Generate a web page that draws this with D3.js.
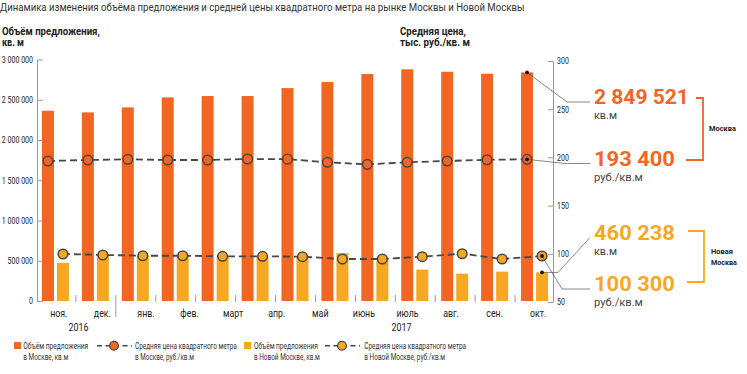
<!DOCTYPE html>
<html><head><meta charset="utf-8">
<script src="https://cdn.jsdelivr.net/npm/d3@7"></script>
<style>
body{margin:0;background:#fff;}
svg{display:block;font-family:Roboto,"Noto Sans",sans-serif;}
</style></head><body>
<svg id="c" width="747" height="374"></svg>
<script>
// ---------- DATA ----------
const title = "Динамика изменения объёма предложения и средней цены квадратного метра на рынке Москвы и Новой Москвы";
const periods = ["11.2016","12.2016","01.2017","02.2017","03.2017","04.2017","05.2017","06.2017","07.2017","08.2017","09.2017","10.2017","11.2017"];
const monthLabels = ["ноя.","дек.","янв.","фев.","март","апр.","май","июнь","июль","авг.","сен.","окт."];
const yearLabels = ["2016","2017"];
const moscowVolume = [2363000,2343000,2405000,2529000,2546000,2546000,2645000,2720000,2820000,2878000,2848000,2823000,2840000];
const newMoscowVolume = [475000,565000,560000,560000,545000,545000,545000,595000,505000,390000,340000,365000,355000];
const moscowPrice = [196.3,197.3,198.0,197.3,197.3,198.3,198.2,194.9,192.8,194.9,196.3,197.6,198.0];
const newMoscowPrice = [99.8,98.8,98.0,98.0,97.4,97.4,97.0,94.6,94.6,97.0,100.1,94.6,97.7];
const leftTicks = [0,500000,1000000,1500000,2000000,2500000,3000000];
const rightTicks = [50,100,150,200,250,300];
const callouts = ["2 849 521","193 400","460 238","100 300"];
const calloutUnits = ["кв.м","руб./кв.м","кв.м","руб./кв.м"];
const groupLabels = [["Москва"],["Новая","Москва"]];
const legendLabels = [
  ["Объём предложения","в Москве, кв.м"],
  ["Средняя цена квадратного метра","в Москве, руб./кв.м"],
  ["Объём предложения","в Новой Москве, кв.м"],
  ["Средняя цена квадратного метра","в Новой Москве, руб./кв.м"]
];

// ---------- STYLE ----------
const ORANGE = "#F26522", YELLOW = "#F7A823", LINE = "#474747", AXIS = "#9a9a9a", TXT = "#222";

const svg = d3.select("#c");
// text squeezed horizontally to a given width (real text, scaled by transform)
function label(x, y, t, size, width, o={}){
  const el = svg.append("text").attr("x",0).attr("y",0).attr("font-size",size)
    .attr("fill",o.fill||TXT).attr("font-weight",o.bold?"bold":null)
    .attr("text-anchor",o.anchor||"start").text(t);
  const L = el.node().getComputedTextLength();
  const s = width ? width/L : (o.f||1);
  el.attr("transform",`translate(${x},${y}) scale(${s},1)`);
  return el;
}
function squeeze(sel, f){
  sel.each(function(){
    const e = d3.select(this);
    const x = +e.attr("x")||0, y = +e.attr("y")||0;
    e.attr("x",0).attr("y",0).attr("transform",`translate(${x},${y}) scale(${f},1)`);
  });
}

// scales
const x = d3.scaleBand().domain(periods).range([36,555]);
const xm = d3.scaleBand().domain(monthLabels).range([37,560]);
const yL = d3.scaleLinear().domain([0,3000000]).range([301,59.5]);
const yR = d3.scaleLinear().domain([50,300]).range([302,61]);
const bw = x.bandwidth();
const barW = 12;
const xo = p => x(p) + bw/2 - 8;   // Moscow centre
const xy = p => x(p) + bw/2 + 7;   // New Moscow centre

// title
label(0, 11, title, 10, 525, {fill:"#333"});

// axis titles
label(2, 35, "Объём предложения,", 10, 98, {bold:true});
label(2, 45.5, "кв. м", 10, 22, {bold:true});
label(400, 35, "Средняя цена,", 10, 66, {bold:true});
label(400, 45.5, "тыс. руб./кв. м", 10, 70, {bold:true});

// axes
const fmt = v => d3.format(",")(v).replace(/,/g," ");
const gL = svg.append("g").attr("transform","translate(37,0)")
  .call(d3.axisLeft(yL).tickValues(leftTicks).tickFormat(fmt).tickSizeInner(-6).tickSizeOuter(0).tickPadding(4));
const gR = svg.append("g").attr("transform","translate(553,0)")
  .call(d3.axisRight(yR).tickValues(rightTicks).tickSizeInner(-5).tickSizeOuter(0).tickPadding(4));
[gL,gR].forEach(g=>{
  g.select(".domain").attr("stroke",AXIS).attr("stroke-width",1);
  g.selectAll(".tick line").attr("stroke",AXIS);
  g.selectAll(".tick text").attr("font-size",8.8).attr("fill",TXT).attr("font-family","Roboto");
  squeeze(g.selectAll(".tick text"),0.8);
});

// bars
svg.append("g").selectAll("rect").data(periods).join("rect")
  .attr("x",p=>xo(p)-barW/2).attr("width",barW)
  .attr("y",(p,i)=>yL(moscowVolume[i])).attr("height",(p,i)=>yL(0)-yL(moscowVolume[i]))
  .attr("fill",ORANGE);
svg.append("g").selectAll("rect").data(periods).join("rect")
  .attr("x",p=>xy(p)-barW/2).attr("width",barW)
  .attr("y",(p,i)=>yL(newMoscowVolume[i])).attr("height",(p,i)=>yL(0)-yL(newMoscowVolume[i]))
  .attr("fill",YELLOW);

// bottom ticks
const x0 = x.range()[0];
for(let i=1;i<periods.length;i++){
  const tx = x0 + i*bw;
  svg.append("line").attr("x1",tx).attr("x2",tx).attr("y1",295).attr("y2", i===2?317:302)
    .attr("stroke",AXIS).attr("stroke-width",1);
}

// month labels
monthLabels.forEach(m=>{
  label(xm(m)+xm.bandwidth()/2, 317, m, 10, null, {anchor:"middle", f:0.88});
});
const yx = [ (xm(monthLabels[0])+xm(monthLabels[1]))/2 + xm.bandwidth()/2 - 2, xm(monthLabels[8])+xm.bandwidth()/2 - 6 ];
yearLabels.forEach((d,i)=> label(yx[i], 331, d, 10.5, null, {anchor:"middle", f:0.85}));

// lines
const lineM = d3.line().x((d,i)=>xo(periods[i])).y(d=>yR(d));
const lineN = d3.line().x((d,i)=>xy(periods[i])).y(d=>yR(d));
svg.append("path").attr("d",lineM(moscowPrice)).attr("fill","none").attr("stroke",LINE).attr("stroke-width",1.8).attr("stroke-dasharray","7,4");
svg.append("path").attr("d",lineN(newMoscowPrice)).attr("fill","none").attr("stroke",LINE).attr("stroke-width",1.8).attr("stroke-dasharray","7,4");
svg.append("g").selectAll("circle").data(moscowPrice).join("circle")
  .attr("cx",(d,i)=>xo(periods[i])).attr("cy",d=>yR(d)).attr("r",4.8)
  .attr("fill",ORANGE).attr("stroke",LINE).attr("stroke-width",1.5);
svg.append("g").selectAll("circle").data(newMoscowPrice).join("circle")
  .attr("cx",(d,i)=>xy(periods[i])).attr("cy",d=>yR(d)).attr("r",4.8)
  .attr("fill",YELLOW).attr("stroke",LINE).attr("stroke-width",1.5);

// callouts
const last = periods.length-1, lp = periods[last];
const anchors = [
  [xo(lp), yL(moscowVolume[last])],
  [xo(lp), yR(moscowPrice[last])],
  [xy(lp), yL(newMoscowVolume[last])],
  [xy(lp), yR(newMoscowPrice[last])]
];
const baseY = [104,165.5,239.5,291];
const elbows = [[567,102],[565,163.5],[558,anchors[2][1]],[562,289]];
anchors.forEach((a,i)=>{
  const e = elbows[i];
  svg.append("path").attr("d",`M${a[0]},${a[1]}L${e[0]},${e[1]}L590,${baseY[i]-2}`)
    .attr("fill","none").attr("stroke","#555").attr("stroke-width",0.7);
  svg.append("circle").attr("cx",a[0]).attr("cy",a[1]).attr("r",1.9).attr("fill","#111");
});
callouts.forEach((t,i)=>{
  label(594, baseY[i], t, 20, i===0?95:81, {bold:true, fill: i<2?ORANGE:YELLOW});
  label(594, baseY[i]+15, calloutUnits[i], 11, i%2===0?23:49, {fill:"#444"});
});
// brackets
svg.append("path").attr("d","M696,98H703V160H686").attr("fill","none").attr("stroke",ORANGE).attr("stroke-width",1.8);
svg.append("path").attr("d","M688,231H704V282H687").attr("fill","none").attr("stroke",YELLOW).attr("stroke-width",1.8);
label(709, 131, groupLabels[0][0], 8, 27, {bold:true});
label(711, 253.5, groupLabels[1][0], 8, 22, {bold:true});
label(711, 264.5, groupLabels[1][1], 8, 26, {bold:true});

// legend
const legend = [
  {type:"bar", color:ORANGE, mx:14, tx:23.3, w:[65,45]},
  {type:"line", color:ORANGE, mx:97, tx:135, w:[102,59]},
  {type:"bar", color:YELLOW, mx:244, tx:254, w:[64,66]},
  {type:"line", color:YELLOW, mx:325, tx:364.3, w:[102,81]}
];
legend.forEach((L,i)=>{
  if(L.type==="bar"){
    svg.append("rect").attr("x",L.mx).attr("y",342).attr("width",7).attr("height",7).attr("fill",L.color);
  } else {
    svg.append("line").attr("x1",L.mx).attr("x2",L.mx+35).attr("y1",345.7).attr("y2",345.7)
      .attr("stroke",LINE).attr("stroke-width",1.6).attr("stroke-dasharray","5,3.5");
    svg.append("circle").attr("cx",L.mx+17).attr("cy",345.7).attr("r",4.4).attr("fill",L.color).attr("stroke",LINE).attr("stroke-width",1.3);
  }
  legendLabels[i].forEach((t,j)=> label(L.tx, 349+j*11, t, 9, L.w[j], {fill:"#333"}));
});
</script>
</body></html>
